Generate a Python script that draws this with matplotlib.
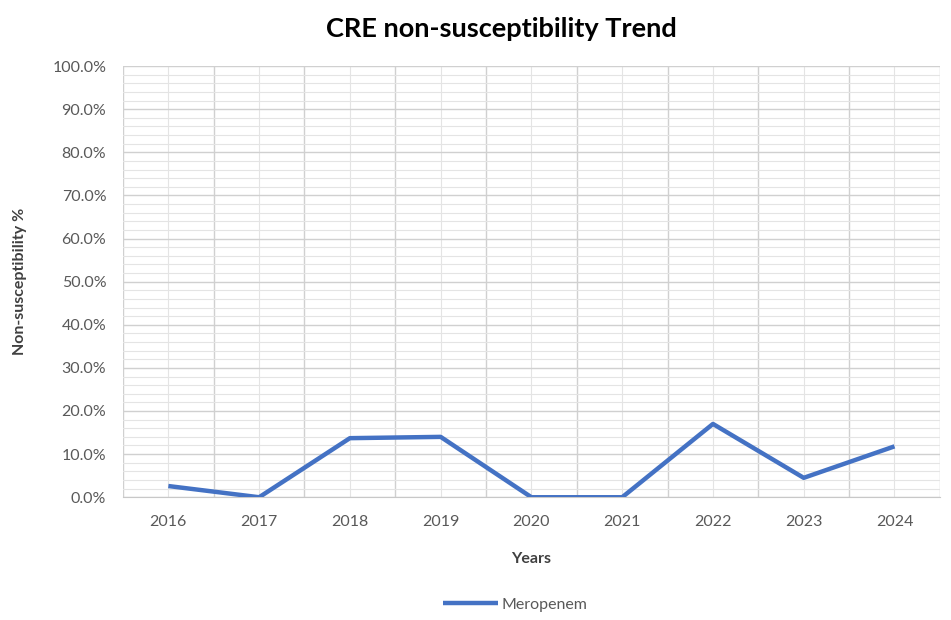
import matplotlib.pyplot as plt
import numpy as np
from matplotlib.ticker import MultipleLocator, FuncFormatter

plt.rcParams['font.family'] = ['Lato', 'DejaVu Sans']

years = ['2016', '2017', '2018', '2019', '2020', '2021', '2022', '2023', '2024']
meropenem = [2.6, 0.0, 13.7, 14.0, 0.0, 0.0, 17.0, 4.5, 11.8]

fig = plt.figure(figsize=(9.51, 6.2), dpi=100)
ax = fig.add_axes([0.1293, 0.198, 0.859, 0.6955])

x = np.arange(len(years))
ax.plot(x, meropenem, color='#4472C4', lw=3.2, label='Meropenem', solid_capstyle='butt', zorder=3)

ax.set_xlim(-0.5, len(years) - 0.5)
ax.set_ylim(0, 100)
ax.yaxis.set_major_locator(MultipleLocator(10))
ax.yaxis.set_minor_locator(MultipleLocator(2))
ax.yaxis.set_major_formatter(FuncFormatter(lambda v, p: f'{v:.1f}%'))
ax.set_xticks(x)
ax.set_xticklabels(years)
ax.set_xticks(np.arange(-0.5, len(years)), minor=True)

ax.grid(which='major', axis='y', color='#d0d0d0', lw=1.0)
ax.grid(which='minor', axis='y', color='#e4e4e4', lw=0.8)
ax.grid(which='minor', axis='x', color='#d0d0d0', lw=1.0)
ax.grid(which='major', axis='x', color='#e4e4e4', lw=0.8)
ax.set_axisbelow(True)

for s in ['top', 'right', 'left']:
    ax.spines[s].set_visible(False)
ax.spines['bottom'].set_color('#c8c8c8')
ax.tick_params(which='both', length=0)
ax.tick_params(axis='y', labelsize=11.5, labelcolor='#595959', pad=12)
ax.tick_params(axis='x', labelsize=11.5, labelcolor='#595959', pad=13)

fig.text(0.527, 0.953, 'CRE non-susceptibility Trend', fontsize=19.5, fontweight='bold',
         ha='center', va='center')
ax.set_xlabel('Years', fontsize=11.5, fontweight='bold', color='#404040', labelpad=16)
ax.set_ylabel('Non-susceptibility %', fontsize=11.5, fontweight='bold', color='#404040', labelpad=18)

ax.legend(loc='upper center', bbox_to_anchor=(0.48, -0.2), frameon=False,
          fontsize=11.5, labelcolor='#595959', handlelength=3.5, handletextpad=0.2)

fig.savefig('out.png', dpi=100)
